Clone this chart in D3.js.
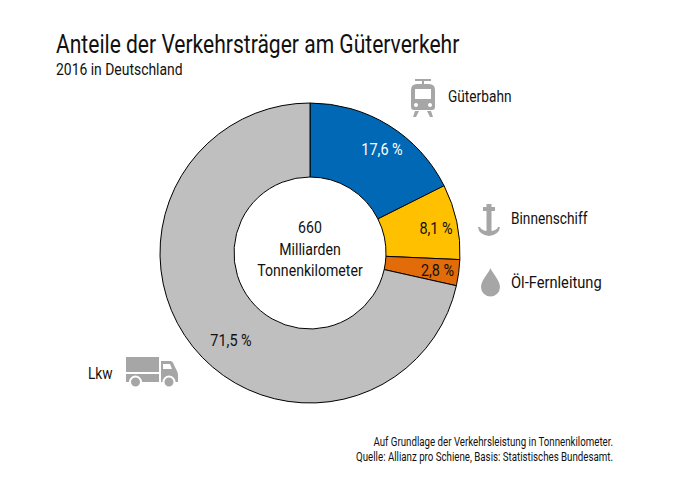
<!DOCTYPE html>
<html><head><meta charset="utf-8">
<script src="https://cdn.jsdelivr.net/npm/d3@7/dist/d3.min.js"></script>
<style>html,body{margin:0;padding:0;background:#fff}svg{display:block}text{font-family:Roboto,sans-serif;fill:#111}</style>
</head><body><svg id="c" width="688" height="485"></svg>
<script>
const categories=["Güterbahn","Binnenschiff","Öl-Fernleitung","Lkw"];
const shares=[17.6,8.1,2.8,71.5];
const valueLabels=["17,6 %","8,1 %","2,8 %","71,5 %"];
const sliceColors=["#0068b4","#ffc000","#e36c0a","#bfbfbf"];
const labelColors=["#fff","#111","#111","#111"];
const centerLines=["660","Milliarden","Tonnenkilometer"];
const footnotes=["Auf Grundlage der Verkehrsleistung in Tonnenkilometer.","Quelle: Allianz pro Schiene, Basis: Statistisches Bundesamt."];
const svg=d3.select("#c");
const cond=.82;
function txt(x,y,s,size,anchor="start",fill="#111",sx=cond){
  return svg.append("text").attr("transform",`translate(${x},${y}) scale(${sx},1)`)
    .attr("text-anchor",anchor).attr("font-size",size).style("fill",fill).text(s);
}
txt(56,53,"Anteile der Verkehrsträger am Güterverkehr",26,"start","#111",.81);
txt(56,75,"2016 in Deutschland",16,"start","#111",.87);
const cx=310,cy=253;
const pie=d3.pie().sort(null).value(d=>d);
const arc=d3.arc().innerRadius(76).outerRadius(150);
const g=svg.append("g").attr("transform",`translate(${cx},${cy})`);
const arcs=pie(shares);
g.selectAll("path").data(arcs).join("path").attr("d",arc)
 .attr("fill",(d,i)=>sliceColors[i]).attr("stroke","#000").attr("stroke-width",1);
const lp=[[72,-104],[126,-25],[127.5,17],[-79,87]];
arcs.forEach((d,i)=>{const p=lp[i];
  txt(cx+p[0],cy+p[1]+6,valueLabels[i],17,"middle",labelColors[i],.85);});
centerLines.forEach((s,i)=>txt(cx,233+i*21.5,s,17,"middle","#111",.83));
const catPos=[[448,102],[511,224],[511,288],[88,379]];
const catScale=[.83,.83,.89,.83];
categories.forEach((s,i)=>txt(catPos[i][0],catPos[i][1],s,16.5,"start","#111",catScale[i]));
footnotes.forEach((s,i)=>txt(613,446+i*15,s,12,"end","#111",.81));
const gray="#a6a6a6";
// train icon
const t=svg.append("g").attr("transform","translate(411,78)").attr("fill",gray);
t.append("path").attr("d","M4 1H20V3H13V6H18Q24 6 24 12V29Q24 32 21 32H3Q0 32 0 29V12Q0 6 6 6H11V3H4Z M4 11V21H20V11Z M5 25a2 2 0 1 0 .01 0Z M19 25a2 2 0 1 0 .01 0Z").attr("fill-rule","evenodd");
t.append("path").attr("d","M4 33H8L5 39H2Z M16 33H20L22 39H19Z");
// anchor
svg.append("path").attr("fill",gray).attr("transform","translate(479,204)")
 .attr("d","M7.5 0H12.5V3H16V7H12.5V27Q18 26 19 23H21Q20 31 10 32Q0 31 -1 23H1Q2 26 7.5 27V7H4V3H7.5Z");
// drop
svg.append("path").attr("fill",gray).attr("transform","translate(481,268)")
 .attr("d","M9.5 0C11 5 19 12 19 19A9.5 9.5 0 0 1 0 19C0 12 8 5 9.5 0Z");
// truck
const k=svg.append("g").attr("transform","translate(126,357)").attr("fill",gray);
k.append("rect").attr("width",33).attr("height",15);
k.append("rect").attr("y",17).attr("width",33).attr("height",8);
k.append("path").attr("fill-rule","evenodd").attr("d","M35 4H44Q47 4 48 8L51 14Q52 16 52 18V25H35Z M37 7V12H46L44 7Z");
k.selectAll("circle").data([9.5,43]).join("circle").attr("cx",d=>d).attr("cy",25).attr("r",5.5).attr("fill",gray).attr("stroke","#fff").attr("stroke-width",2);
</script></body></html>
